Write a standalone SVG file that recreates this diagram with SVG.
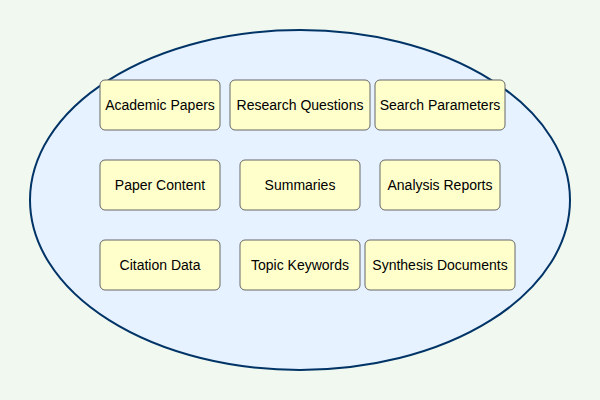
<svg xmlns="http://www.w3.org/2000/svg" width="600" height="400" viewBox="0 0 600 400">
<style>
.node rect{fill:#ffffcc;stroke:#666666;stroke-width:1}
.node text{font-family:"Liberation Sans",Arial,sans-serif;font-size:14px;fill:#000;text-anchor:middle;dominant-baseline:central}
</style>
<rect width="600" height="400" fill="#f0f8f0"/>
<ellipse id="container" cx="300" cy="200" rx="270" ry="170" fill="#e6f2ff" stroke="#003366" stroke-width="2"/>
<g id="connectors"></g>
<g id="academic-papers" class="node"><rect x="100" y="80" width="120" height="50" rx="5"/><text x="160" y="105">Academic Papers</text></g>
<g id="research-questions" class="node"><rect x="230" y="80" width="140" height="50" rx="5"/><text x="300" y="105">Research Questions</text></g>
<g id="search-parameters" class="node"><rect x="375" y="80" width="130" height="50" rx="5"/><text x="440" y="105">Search Parameters</text></g>
<g id="paper-content" class="node"><rect x="100" y="160" width="120" height="50" rx="5"/><text x="160" y="185">Paper Content</text></g>
<g id="summaries" class="node"><rect x="240" y="160" width="120" height="50" rx="5"/><text x="300" y="185">Summaries</text></g>
<g id="analysis-reports" class="node"><rect x="380" y="160" width="120" height="50" rx="5"/><text x="440" y="185">Analysis Reports</text></g>
<g id="citation-data" class="node"><rect x="100" y="240" width="120" height="50" rx="5"/><text x="160" y="265">Citation Data</text></g>
<g id="topic-keywords" class="node"><rect x="240" y="240" width="120" height="50" rx="5"/><text x="300" y="265">Topic Keywords</text></g>
<g id="synthesis-documents" class="node"><rect x="365" y="240" width="150" height="50" rx="5"/><text x="440" y="265">Synthesis Documents</text></g>
</svg>
